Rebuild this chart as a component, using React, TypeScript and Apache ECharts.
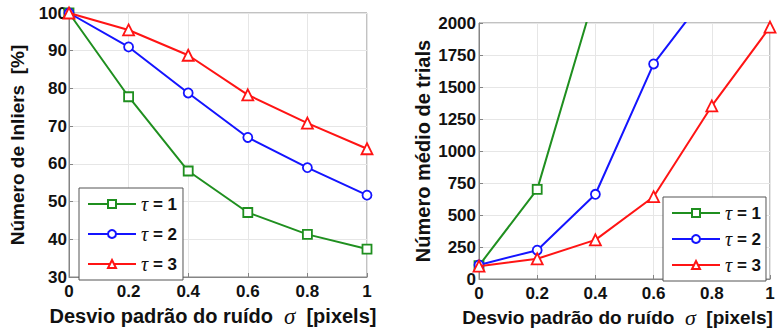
import React, { useEffect, useRef } from "react";
import * as echarts from "echarts";

const sigma = [0, 0.2, 0.4, 0.6, 0.8, 1];
const seriesNames = ["τ = 1", "τ = 2", "τ = 3"];
const colors = ["#1f8f1f", "#1414ff", "#ff1414"];
const symbols = ["rect", "circle", "triangle"];

// Left chart: Número de Inliers [%]
const inliersT1 = [100, 77.8, 58.1, 47.1, 41.3, 37.4];
const inliersT2 = [100, 91, 78.8, 67, 59, 51.7];
const inliersT3 = [100, 95.5, 88.8, 78.3, 70.8, 64];

// Right chart: Número médio de trials (values beyond 2000 are clipped)
const trialsT1 = [105, 700, 2240];
const trialsT2 = [110, 225, 662, 1680, 2275];
const trialsT3 = [100, 158, 306, 643, 1352, 1968];

const FONT = "Liberation Sans, Arial, sans-serif";
const SERIF = "Liberation Serif, DejaVu Serif, serif";

const pairs = (ys: number[]) => ys.map((y, i) => [sigma[i], y]);

export default function App() {
  const ref = useRef<HTMLDivElement>(null);
  useEffect(() => {
    if (!ref.current) return;
    const chart = echarts.init(ref.current, undefined, { renderer: "svg" });

    const axisCommon = {
      axisLine: { show: true, lineStyle: { color: "#858585", width: 1 } },
      axisTick: { show: true, inside: true, length: 4, lineStyle: { color: "#858585" } },
      splitLine: { show: true, lineStyle: { color: "#e6e6e6", width: 1 } },
      axisLabel: {
        color: "#111",
        fontFamily: FONT,
        fontWeight: "bold" as const,
        fontSize: 17,
        formatter: (v: number) => String(v),
      },
    };

    const xName = "{a|Desvio padrão do ruído  }{s|σ}{a|  [pixels]}";
    const xNameStyle = (size: number, padRight: number) => ({
      color: "#111",
      lineHeight: 20,
      padding: [0, padRight, 0, 0],
      rich: {
        a: { fontFamily: FONT, fontWeight: "bold" as const, fontSize: size, lineHeight: 20, color: "#111" },
        s: { fontFamily: SERIF, fontStyle: "italic" as const, fontSize: size + 3, lineHeight: 20, color: "#111" },
      },
    });

    const makeX = (gridIndex: number, size: number, padRight: number) => ({
      type: "value" as const,
      gridIndex,
      min: 0,
      max: 1,
      interval: 0.2,
      name: xName,
      nameLocation: "middle" as const,
      nameGap: 18,
      nameTextStyle: xNameStyle(size, padRight),
      ...axisCommon,
      axisLabel: { ...axisCommon.axisLabel, margin: 6 },
    });

    const makeSeries = (data: number[][], i: number, xi: number) => ({
      type: "line" as const,
      name: seriesNames[i],
      xAxisIndex: xi,
      yAxisIndex: xi,
      data,
      clip: true,
      symbol: symbols[i],
      symbolSize: i === 2 ? 11 : 9,
      lineStyle: { color: colors[i], width: 2 },
      itemStyle: { color: "#ffffff", borderColor: colors[i], borderWidth: 1.8 },
      z: 3 + i,
    });

    const legendCommon = {
      orient: "vertical" as const,
      data: seriesNames,
      backgroundColor: "#ffffff",
      borderColor: "#555",
      borderWidth: 1,
      borderRadius: 0,
      itemWidth: 48,
      itemHeight: 10,
      formatter: (name: string) => `{t|τ}{b|${name.slice(1)}}`,
      textStyle: {
        lineHeight: 16,
        rich: {
          t: { fontFamily: SERIF, fontStyle: "italic" as const, fontSize: 20, lineHeight: 16, color: "#111" },
          b: { fontFamily: FONT, fontWeight: "bold" as const, fontSize: 17, lineHeight: 16, color: "#111" },
        },
      },
    };

    const gridCommon = {
      show: true,
      borderColor: "#858585",
      borderWidth: 1,
      backgroundColor: "#fff",
      containLabel: false,
      outerBoundsMode: "none",
    };

    chart.setOption({
      animation: false,
      backgroundColor: "#ffffff",
      grid: [
        { ...gridCommon, left: 69, top: 13, width: 298, height: 264 },
        { ...gridCommon, left: 479, top: 23, width: 291, height: 256 },
      ],
      xAxis: [makeX(0, 20, 10), makeX(1, 19, 14)],
      yAxis: [
        {
          type: "value",
          gridIndex: 0,
          min: 30,
          max: 100,
          interval: 10,
          name: "Número de Inliers  [%]",
          nameLocation: "middle",
          nameGap: 42,
          nameTextStyle: { fontFamily: FONT, fontWeight: "bold", fontSize: 19, color: "#111" },
          ...axisCommon,
          axisLabel: { ...axisCommon.axisLabel, margin: 2 },
        },
        {
          type: "value",
          gridIndex: 1,
          min: 0,
          max: 2000,
          interval: 250,
          name: "Número médio de trials",
          nameLocation: "middle",
          nameGap: 46,
          nameTextStyle: { fontFamily: FONT, fontWeight: "bold", fontSize: 20, color: "#111" },
          ...axisCommon,
          axisLabel: { ...axisCommon.axisLabel, margin: 3 },
        },
      ],
      legend: [
        { ...legendCommon, left: 79, top: 188, padding: [6, 6, 6, 8], itemGap: 10 },
        { ...legendCommon, left: 663, top: 197, padding: [6, 5, 6, 8], itemGap: 6 },
      ],
      series: [
        makeSeries(pairs(inliersT1), 0, 0),
        makeSeries(pairs(inliersT2), 1, 0),
        makeSeries(pairs(inliersT3), 2, 0),
        makeSeries(pairs(trialsT1), 0, 1),
        makeSeries(pairs(trialsT2), 1, 1),
        makeSeries(pairs(trialsT3), 2, 1),
      ],
    });
    return () => chart.dispose();
  }, []);
  return (
    <div
      ref={ref}
      style={{ position: "fixed", left: 0, top: 0, width: 779, height: 329 }}
    />
  );
}
